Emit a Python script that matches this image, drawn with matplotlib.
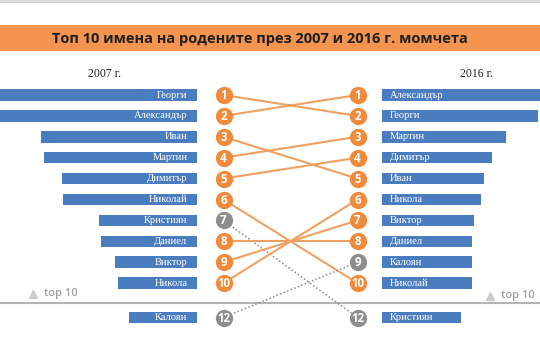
import matplotlib
matplotlib.use("Agg")
import matplotlib.pyplot as plt

# ---- data ----
title = "Топ 10 имена на родените през 2007 и 2016 г. момчета"
year_left = "2007 г."
year_right = "2016 г."

names_2007 = ["Георги", "Александър", "Иван", "Мартин", "Димитър", "Николай",
              "Кристиян", "Даниел", "Виктор", "Никола", "Калоян"]
ranks_2007 = [1, 2, 3, 4, 5, 6, 7, 8, 9, 10, 12]
values_2007 = [212, 205, 156, 153, 135, 134, 98, 96, 82, 79, 68]

names_2016 = ["Александър", "Георги", "Мартин", "Димитър", "Иван", "Никола",
              "Виктор", "Даниел", "Калоян", "Николай", "Кристиян"]
ranks_2016 = [1, 2, 3, 4, 5, 6, 7, 8, 9, 10, 12]
values_2016 = [158, 156, 124, 110, 102, 99, 92, 90, 90, 90, 79]

top_label = "top 10"

# ---- style ----
BLUE = "#4A7DC0"
ORANGE = "#F28A3C"
LINE_OR = "#F0A060"
GREY = "#8E8E8E"
BAND = "#F5944F"

fig = plt.figure(figsize=(5.4, 3.6), dpi=100)
ax = fig.add_axes([0, 0, 1, 1])
ax.set_xlim(0, 540)
ax.set_ylim(360, 0)
ax.axis("off")


def ypos(rank):
    return 95 + (rank - 1) * 20.9 if rank <= 10 else 317.5


# top thin grey edge & title band
ax.axhspan(0, 3, color="#d8d8d8", lw=0)
ax.axhspan(25, 51, color=BAND, lw=0)
ax.text(260, 38.5, title, ha="center", va="center", fontsize=10.5,
        fontweight="bold", color="#1f1f1f", family="Open Sans")

# year headers
ax.text(105, 74, year_left, ha="center", va="center", fontsize=8.5,
        family="Liberation Serif", color="#222222")
ax.text(476, 74, year_right, ha="center", va="center", fontsize=8.5,
        family="Liberation Serif", color="#222222")

# bars
LEFT_EDGE = 196.5
RIGHT_EDGE = 381.5
yl = [ypos(r) for r in ranks_2007]
yr = [ypos(r) for r in ranks_2016]
ax.barh(yl, [-v for v in values_2007], left=LEFT_EDGE, height=11.5,
        color=BLUE, zorder=2)
ax.barh(yr, values_2016, left=RIGHT_EDGE, height=11.5, color=BLUE, zorder=2)

for n, y in zip(names_2007, yl):
    ax.text(LEFT_EDGE - 9, y, n, ha="right", va="center", fontsize=7.6,
            family="Liberation Serif", color="white", zorder=3)
for n, y in zip(names_2016, yr):
    ax.text(RIGHT_EDGE + 8, y, n, ha="left", va="center", fontsize=7.6,
            family="Liberation Serif", color="white", zorder=3)

# separator and top-10 markers
ax.plot([0, 540], [303, 303], color="#b4b4b4", lw=1.5, zorder=1)
ax.plot([33], [293.5], marker="^", ms=6, color="#cccccc", zorder=2)
ax.text(44, 293.5, top_label, ha="left", va="center", fontsize=8,
        color="#a0a0a0", family="Open Sans", fontweight="semibold")
ax.plot([490], [295.5], marker="^", ms=6, color="#cccccc", zorder=2)
ax.text(501, 295.5, top_label, ha="left", va="center", fontsize=8,
        color="#a0a0a0", family="Open Sans", fontweight="semibold")

# slope lines
CX_L = 223.5
CX_R = 357.5
rank16 = dict(zip(names_2016, ranks_2016))
for n, r in zip(names_2007, ranks_2007):
    r2 = rank16[n]
    if r <= 10 and r2 <= 10:
        ax.plot([CX_L, CX_R], [ypos(r), ypos(r2)], color=LINE_OR, lw=1.5,
                zorder=3)
    else:
        ax.plot([CX_L, CX_R], [ypos(r), ypos(r2)], color="#8a8a8a", lw=1.1,
                ls=(0, (1, 1.5)), zorder=3)

# circles
rank07 = dict(zip(names_2007, ranks_2007))
for n, r in zip(names_2007, ranks_2007):
    c = ORANGE if (r <= 10 and rank16[n] <= 10) else GREY
    ax.scatter([CX_L], [ypos(r)], s=155, color=c, zorder=4, lw=0)
    ax.text(CX_L, ypos(r) + 0.5, str(r), ha="center", va="center",
            fontsize=8.3, fontweight="bold", color="white", zorder=5,
            family="Open Sans")
for n, r in zip(names_2016, ranks_2016):
    c = ORANGE if (r <= 10 and rank07[n] <= 10) else GREY
    ax.scatter([CX_R], [ypos(r)], s=155, color=c, zorder=4, lw=0)
    ax.text(CX_R, ypos(r) + 0.5, str(r), ha="center", va="center",
            fontsize=8.3, fontweight="bold", color="white", zorder=5,
            family="Open Sans")

fig.savefig("out.png", dpi=100)
